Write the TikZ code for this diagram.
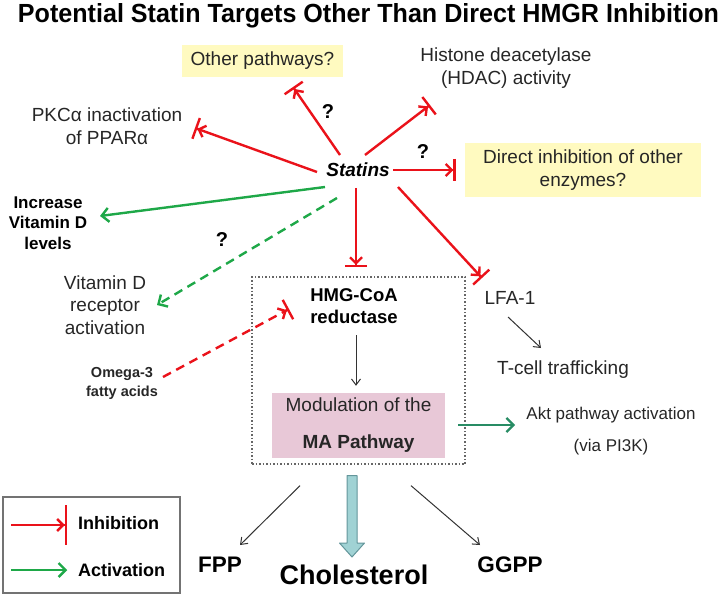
\documentclass[tikz,border=0pt]{standalone}
\usepackage{fontspec}
\setmainfont{Liberation Sans}
\usetikzlibrary{arrows.meta,calc}
\definecolor{inh}{RGB}{234,18,26}
\definecolor{actc}{RGB}{30,168,72}
\definecolor{aktc}{RGB}{40,140,100}
\definecolor{yfill}{RGB}{255,250,192}
\definecolor{pinkf}{RGB}{232,200,215}
\definecolor{cyanf}{RGB}{160,210,212}
\definecolor{cyand}{RGB}{100,150,155}
\begin{document}
\begin{tikzpicture}[x=1pt,y=-1pt,
  txt/.style={inner sep=0pt, align=center, text=black!85},
  fnineteen/.style={font=\fontsize{19}{23}\selectfont},
  qmark/.style={inner sep=0pt, font=\bfseries\fontsize{20}{24}\selectfont},
  ybox/.style={fill=yfill, inner sep=0pt, align=center, text=black!85},
  inhib/.style={draw=inh, line width=2.4pt, -{Straight Barb[length=6pt,width=12pt]Bar[width=22pt]}},
  actv/.style={draw=actc, line width=2.4pt, -{Straight Barb[length=7pt,width=14pt]}},
  thinarr/.style={draw=black!80, line width=1pt, -{Straight Barb[length=6pt,width=9pt]}},
]
\useasboundingbox (0,0) rectangle (726,599);

% title
\node[anchor=base, inner sep=0pt] (title) at (368.5,23) {\resizebox{701pt}{19pt}{\bfseries Potential Statin Targets Other Than Direct HMGR Inhibition}};

% nodes
\node[ybox, fnineteen, minimum width=161pt, minimum height=32pt] (op) at (262.5,61) {Other pathways?};
\node[txt, fnineteen] (hdac) at (506,68) {Histone deacetylase\\(HDAC) activity};
\node[txt, fnineteen] (pkc) at (107,126) {PKCα inactivation\\of PPARα};
\node[txt, font=\bfseries\itshape\fontsize{19}{23}\selectfont, text=black] (statins) at (358,170) {Statins};
\node[qmark] (q1) at (328,112) {?};
\node[qmark] (q2) at (423,152) {?};
\node[qmark] (q3) at (222,240) {?};
\node[ybox, fnineteen, minimum width=236pt, minimum height=54pt] (die) at (583,170) {Direct inhibition of other\\enzymes?};
\node[txt, font=\bfseries\fontsize{17}{20.5}\selectfont, text=black] (vitd) at (48,223) {Increase\\Vitamin D\\levels};
\node[txt, font=\fontsize{19}{22.5}\selectfont] (vdr) at (105,305) {Vitamin D\\receptor\\activation};
\node[txt, font=\bfseries\fontsize{14.5}{19}\selectfont] (omega) at (122,383) {Omega-3\\fatty acids};

\node[draw=black!60, dash pattern=on 1.5pt off 2pt, line width=1.3pt, minimum width=213pt, minimum height=187pt, inner sep=0pt] (mabox) at (358.5,370.5) {};
\node[txt, font=\bfseries\fontsize{18.5}{22}\selectfont, text=black] (hmg) at (354,306) {HMG-CoA\\reductase};
\node[fill=pinkf, minimum width=173pt, minimum height=65pt, inner sep=0pt, align=center, text=black!85, font=\fontsize{19}{37}\selectfont] (ma) at (358.5,425.5) {\raisebox{-3pt}{Modulation of the}\\\raisebox{-3pt}{\textbf{MA Pathway}}};

\node[txt, font=\fontsize{17}{32}\selectfont] (akt) at (611,431) {Akt pathway activation\\(via PI3K)};
\node[txt, fnineteen] (lfa) at (510,298) {LFA-1};
\node[txt, fnineteen] (tcell) at (563,370) {T-cell trafficking};

\node[inner sep=0pt, font=\bfseries\fontsize{27}{30}\selectfont] (chol) at (354,575) {Cholesterol};
\node[inner sep=0pt, font=\bfseries\fontsize{22.5}{26}\selectfont] (fpp) at (220,565) {FPP};
\node[inner sep=0pt, font=\bfseries\fontsize{22.5}{26}\selectfont] (ggpp) at (510,565) {GGPP};

% connectors from statins
\draw[inhib] ($(statins)+(-18,-15)$) -- ($(op)+(30.5,26)$);
\draw[inhib] ($(statins)+(-41,2)$) -- ($(pkc)+(88,2)$);
\draw[inhib] ($(statins)+(7,-15)$) -- ($(hdac)+(-76,37)$);
\draw[inhib] ($(statins)+(35,0)$) -- ($(die.west)+(-9,0)$);
\draw[inhib] ($(statins)+(-2,18)$) -- ($(mabox.north)+(-2.5,-9)$);
\draw[inhib] ($(statins)+(40,17)$) -- ($(lfa)+(-28,-20)$);
\draw[actv] ($(statins)+(-33,17)$) -- ($(vitd)+(52,-7)$);
\draw[actv, dash pattern=on 9pt off 6pt] ($(statins)+(-21,28)$) -- ($(vdr)+(52,0)$);
\draw[inhib, dash pattern=on 9pt off 6pt] ($(omega)+(41,-6)$) -- ($(hmg)+(-65,3)$);

% pathway connectors
\draw[thinarr] ($(hmg)+(2,29)$) -- ($(ma.north)+(-2.5,-7)$);
\draw[draw=aktc, line width=2.2pt, -{Straight Barb[length=7pt,width=14pt]}] ($(ma.east)+(13,-0.5)$) -- ($(akt)+(-96,-6)$);
\draw[thinarr] ($(lfa)+(-2,19)$) -- ($(tcell)+(-22,-22)$);
\draw[thinarr] ($(mabox.south)+(-58.5,21)$) -- ($(fpp)+(20,-20)$);
\draw[thinarr] ($(mabox.south)+(52.5,21)$) -- ($(ggpp)+(-30,-20)$);

% thick arrow to cholesterol
\coordinate (cs) at ($(mabox.south)+(-6.5,11)$);
\coordinate (ce) at ($(chol)+(-2,-18)$);
\draw[fill=cyanf, draw=cyand, line width=1pt, line join=round]
  ($(cs)+(-5,0)$) -- ($(cs)+(5,0)$) -- ($(ce)+(5,-14)$) -- ($(ce)+(12.5,-14)$) -- (ce)
  -- ($(ce)+(-12.5,-14)$) -- ($(ce)+(-5,-14)$) -- cycle;

% legend
\node[draw=black!55, line width=1.5pt, minimum width=177pt, minimum height=96pt, inner sep=0pt] (leg) at (91.5,545) {};
\coordinate (lia) at ($(leg.west)+(9,-20)$);
\coordinate (lib) at ($(leg.west)+(65,-20)$);
\coordinate (laa) at ($(leg.west)+(9,25)$);
\coordinate (lab) at ($(leg.west)+(65,25)$);
\draw[draw=inh, line width=2.4pt, -{Straight Barb[length=6pt,width=12pt]Bar[width=40pt]}] (lia) -- (lib);
\draw[actv] (laa) -- (lab);
\node[anchor=west, inner sep=0pt, font=\bfseries\fontsize{18}{22}\selectfont] (linh) at (78,523) {Inhibition};
\node[anchor=west, inner sep=0pt, font=\bfseries\fontsize{18}{22}\selectfont] (lact) at (78,570) {Activation};
\end{tikzpicture}
\end{document}
